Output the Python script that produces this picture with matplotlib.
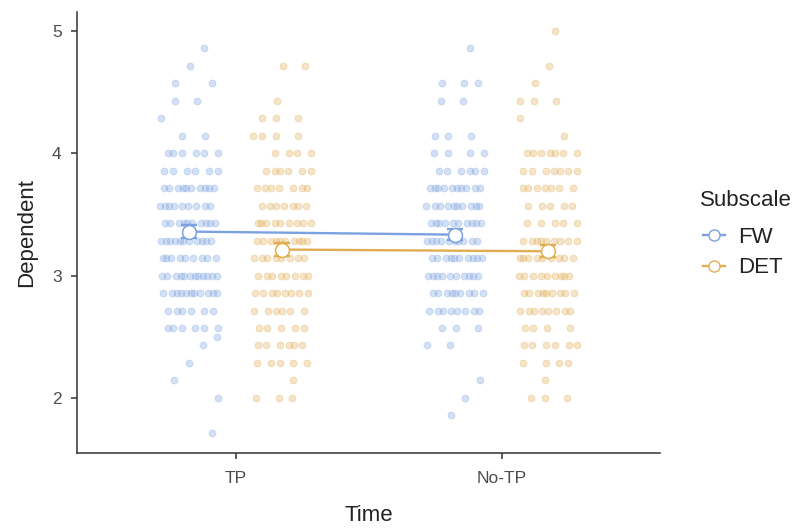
import numpy as np
import matplotlib
matplotlib.use("Agg")
import matplotlib.pyplot as plt
from matplotlib.lines import Line2D

plt.rcParams["font.family"] = ["Liberation Sans", "DejaVu Sans"]

# ── Data ──────────────────────────────────────────────────────────────────────
times = ["TP", "No-TP"]
subscales = ["FW", "DET"]

levels = [5.0, 4.857, 4.714, 4.571, 4.429, 4.286, 4.143, 4.0, 3.857, 3.714,
          3.571, 3.429, 3.286, 3.143, 3.0, 2.857, 2.714, 2.571, 2.5, 2.429,
          2.286, 2.143, 2.0, 1.857, 1.714]

# number of respondents at each level (aligned with `levels`)
fw_tp    = [0, 1, 1, 2, 2, 1, 2, 6, 6, 10, 9, 10, 11, 9, 12, 11, 6, 6, 1, 1, 1, 1, 1, 0, 1]
det_tp   = [0, 0, 2, 0, 1, 3, 4, 4, 6, 7, 7, 9, 10, 8, 8, 8, 6, 5, 0, 6, 5, 1, 3, 0, 0]
fw_notp  = [0, 1, 0, 3, 2, 0, 3, 4, 6, 10, 10, 10, 10, 10, 10, 9, 8, 3, 0, 2, 0, 1, 1, 1, 0]
det_notp = [1, 0, 1, 1, 3, 1, 1, 7, 7, 7, 5, 5, 9, 9, 9, 9, 8, 4, 0, 6, 4, 1, 3, 0, 0]

fw_mean  = [3.36, 3.335]
det_mean = [3.213, 3.199]
fw_se    = [0.05, 0.045]
det_se   = [0.05, 0.05]

colors = {"FW": "#7ba1e0", "DET": "#e0ad52"}

# ── Figure ────────────────────────────────────────────────────────────────────
fig = plt.figure(figsize=(8.06, 5.30), dpi=100)
ax = fig.add_axes([0.0955, 0.1453, 0.7235, 0.8327])

dodge = 0.175
jitter = 0.11


def draw_points(xc, counts, color):
    # deterministic low-discrepancy spread instead of random jitter
    k = 0
    for li, (lv, n) in enumerate(zip(levels, counts)):
        for i in range(n):
            frac = ((k + 1) * 0.6180339887 + li * 0.137) % 1.0
            ax.scatter(xc + (frac * 2 - 1) * jitter, lv, s=24, color=color,
                       alpha=0.32, edgecolor=color, linewidth=0.7, zorder=2)
            k += 1


draw_points(1 - dodge, fw_tp, colors["FW"])
draw_points(1 + dodge, det_tp, colors["DET"])
draw_points(2 - dodge, fw_notp, colors["FW"])
draw_points(2 + dodge, det_notp, colors["DET"])

x = np.arange(1, len(times) + 1)
for name, means, ses, off in [("FW", fw_mean, fw_se, -dodge), ("DET", det_mean, det_se, dodge)]:
    c = colors[name]
    ax.plot(x + off, means, color=c, linewidth=1.7, zorder=3)
    ax.errorbar(x + off, means, yerr=ses, fmt="none", ecolor=c, elinewidth=1.7,
                capsize=6, capthick=1.7, zorder=4)
    ax.plot(x + off, means, "o", markersize=10, markerfacecolor="white",
            markeredgecolor=c, markeredgewidth=1.1, linestyle="none", zorder=5)

ax.set_xlim(0.403, 2.595)
ax.set_ylim(1.55, 5.158)
ax.set_xticks(x)
ax.set_xticklabels(times)
ax.set_yticks([2, 3, 4, 5])
ax.set_yticklabels(["2", "3", "4", "5"])

for s in ["top", "right"]:
    ax.spines[s].set_visible(False)
for s in ["left", "bottom"]:
    ax.spines[s].set_color("#333333")
    ax.spines[s].set_linewidth(1.1)
ax.tick_params(colors="#333333", labelcolor="#4d4d4d", labelsize=12.5, length=4, width=1.1)
ax.tick_params(axis="x", pad=9)
ax.tick_params(axis="y", pad=7)

ax.set_xlabel("Time", fontsize=16, color="#222222", labelpad=14)
ax.set_ylabel("Dependent", fontsize=16, color="#222222", labelpad=10.5)

# ── Legend ────────────────────────────────────────────────────────────────────
fig.text(0.8685, 1 - 200 / 530, "Subscale", fontsize=16, color="#222222",
         ha="left", va="center")
handles = [Line2D([0], [0], color=colors[n], linewidth=1.7, marker="o", markersize=8,
                  markerfacecolor="white", markeredgecolor=colors[n], markeredgewidth=1.0)
           for n in subscales]
leg = fig.legend(handles, subscales, loc="center left",
                 bbox_to_anchor=(0.861, 1 - 252.5 / 530), frameon=False, fontsize=16,
                 handlelength=1.0, handletextpad=0.6, labelspacing=0.43,
                 borderaxespad=0)
for t in leg.get_texts():
    t.set_color("#222222")

fig.savefig("out.png", dpi=100)
